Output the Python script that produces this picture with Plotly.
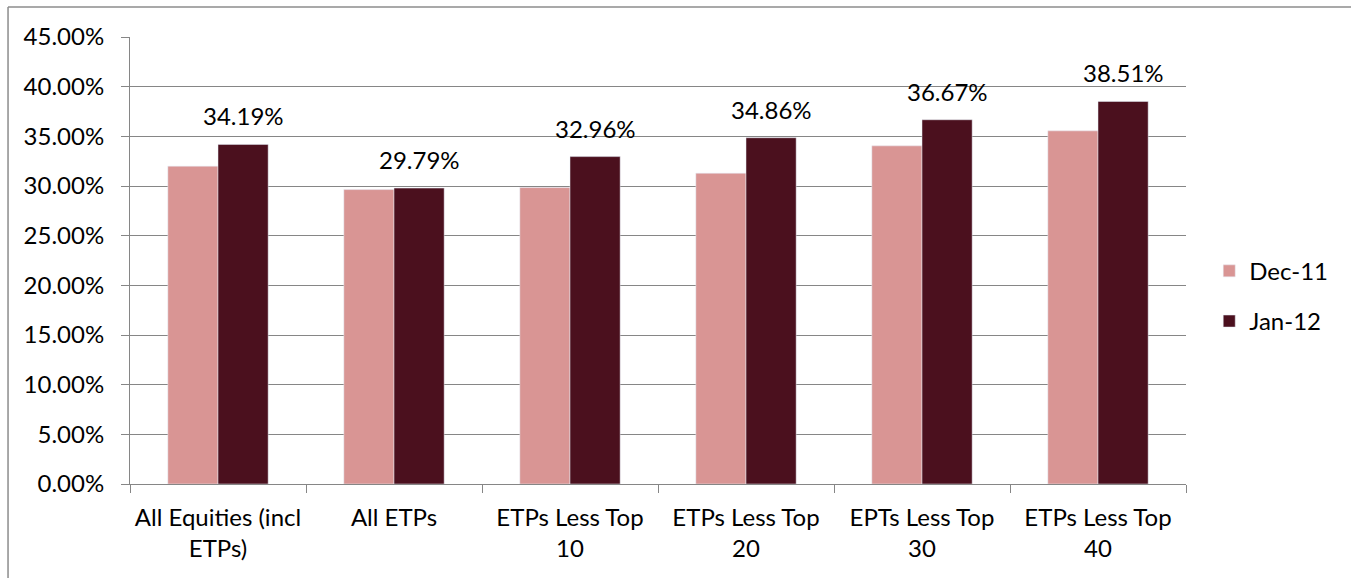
import plotly.graph_objects as go

categories = ["All Equities (incl<br>ETPs)", "All ETPs", "ETPs Less Top<br>10",
              "ETPs Less Top<br>20", "EPTs Less Top<br>30", "ETPs Less Top<br>40"]
dec11 = [0.3200, 0.2964, 0.2984, 0.3129, 0.3404, 0.3555]
jan12 = [0.3419, 0.2979, 0.3296, 0.3486, 0.3667, 0.3851]
y_ticks = [0, 0.05, 0.10, 0.15, 0.20, 0.25, 0.30, 0.35, 0.40, 0.45]

FONT = "Lato"
FS = 24
PINK = "#D99594"
DARK = "#4B101E"
GRID = "#868686"

fig = go.Figure()
fig.add_trace(go.Bar(name="Dec-11", x=categories, y=dec11, marker_color=PINK,
                     legendgroup="a"))
fig.add_trace(go.Bar(name="Jan-12", x=categories, y=jan12, marker_color=DARK,
                     legendgroup="b"))

for c, v in zip(categories, jan12):
    fig.add_annotation(x=c, y=v, text=f"{v*100:.2f}%", showarrow=False,
                       xref="x", yref="y", xshift=25, yshift=12, yanchor="bottom",
                       font=dict(family=FONT, size=FS, color="black"))

# outer chart border (top and left edges visible)
fig.add_shape(type="line", xref="paper", yref="paper", x0=-0.1155, x1=1.2,
              y0=1.0671, y1=1.0671, line=dict(color="#8C8C8C", width=1.5))
fig.add_shape(type="line", xref="paper", yref="paper", x0=-0.1155, x1=-0.1155,
              y0=1.0671, y1=-0.3, line=dict(color="#8C8C8C", width=1.5))

fig.update_layout(
    width=1351, height=578,
    margin=dict(l=130, r=165, t=37, b=94),
    paper_bgcolor="white", plot_bgcolor="white",
    barmode="group", bargap=0.43, bargroupgap=0,
    font=dict(family=FONT, size=FS, color="black"),
    showlegend=True,
    legend=dict(x=1.022, y=0.42, xanchor="left", yanchor="middle",
                traceorder="grouped", tracegroupgap=16,
                font=dict(family=FONT, size=FS, color="black"),
                bgcolor="rgba(0,0,0,0)"),
    xaxis=dict(showline=True, linecolor=GRID, linewidth=1,
               ticks="outside", ticklen=8, tickcolor=GRID, tickson="boundaries",
               showgrid=False, ticklabelstandoff=12, automargin=False,
               tickfont=dict(family=FONT, size=FS, color="black")),
    yaxis=dict(range=[0, 0.45], tickvals=y_ticks, tickformat=".2%",
               showline=True, linecolor=GRID, linewidth=1,
               ticks="outside", ticklen=8, tickcolor=GRID,
               showgrid=True, gridcolor=GRID, gridwidth=1,
               zeroline=False, ticklabelstandoff=12, automargin=False,
               tickfont=dict(family=FONT, size=FS, color="black")),
)

fig.write_html("out.html", config={"displayModeBar": False},
               post_script="document.body.style.margin='0';")
